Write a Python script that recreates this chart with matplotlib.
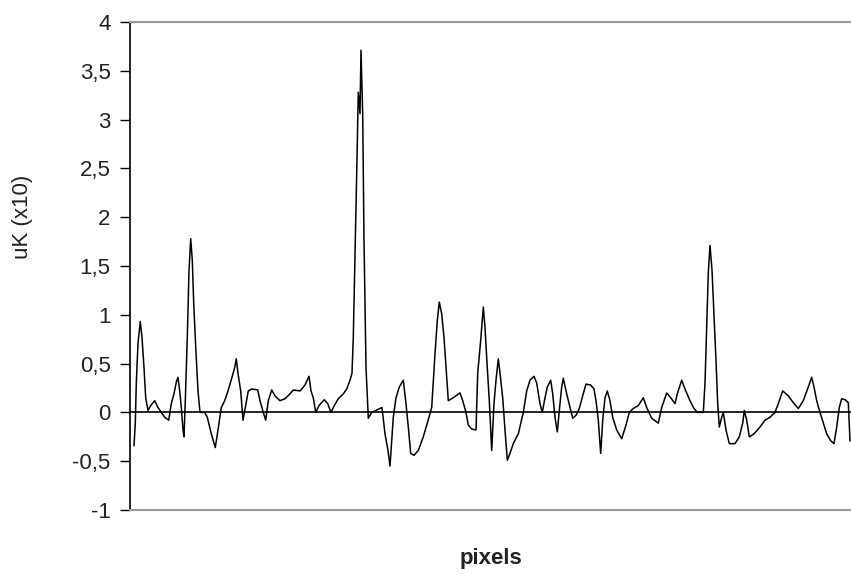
import matplotlib.pyplot as plt
from matplotlib.ticker import FuncFormatter

# profile: pixel position and value (uK x10)
px = [4, 5.3, 6.3, 8, 10.3, 12, 14, 15.7, 18, 20.7, 24.7, 28, 31.3, 34.7, 38.7,
      41.3, 44, 46.3, 48, 49.7, 51.3, 53, 54, 55.3, 57.3, 59, 60.7, 62.3, 63.7,
      65.7, 68, 70, 74.7, 77.3, 81.3, 85.3, 88, 91.3, 94.7, 98, 102, 104.7, 106.3,
      108, 110.7, 113, 115.3,
      118.3, 121.7, 127.7, 130, 133.3, 135.7, 138.3, 141.7, 145, 150, 155, 160,
      163.3, 170, 175, 179, 181, 183.3, 185.7, 189, 194.3, 197.7, 201, 204.3,
      208.3, 213.3, 216.7, 220, 222, 223.3, 225, 226.7, 228.3, 230, 231, 232.7,
      234, 236, 238.3, 241.7, 250, 252, 255, 258, 260, 263.3, 266, 269.3, 273.3,
      276, 278.3, 280.7, 284, 288.3, 293.3, 297.3, 301.7, 305, 307.3, 309.3,
      311.7, 314, 316, 318.3, 323.3, 330, 332.7, 336, 338.3, 341.7, 346, 347.7,
      350.7, 353.3, 355, 356.7, 359.3, 361.7, 364, 366, 368.3, 370, 372.7, 375,
      377.3, 380, 383.3, 388.3, 393.3,
      396.7, 400, 404, 406.7, 410, 412.3, 415, 417.3, 420.7, 422.7, 425, 427.3,
      429.3, 431.7, 433.3, 436.7, 440, 442.7, 446, 449.3, 452.7, 456, 460.7,
      464, 466, 468.3, 470.7, 472.7, 475, 477.3, 480, 482.7, 486.7, 491.7, 496,
      499.3, 503.3, 508.3, 513.3, 516.7, 521.7, 528.3, 531.7, 536.7, 540.7, 545,
      547.3, 551.7, 555, 560, 564, 567.3, 573.3, 575, 576.7, 578.3, 580, 582,
      584, 586, 587.7, 589.3, 591.7, 593.3, 596, 599.3, 605, 609.3, 612.7, 614.3,
      616.7, 619.3, 624, 630, 635, 640, 645, 648.3, 652.7, 658.3, 663.3, 668.3,
      673.3, 678.3, 681.7, 684, 686.7, 690, 693.3, 696.7, 700.7, 704, 706.7,
      709.3, 711.7, 715, 718.3, 720]
uk = [-0.34, -0.11, 0.30, 0.71, 0.93, 0.77, 0.46, 0.15, 0.02, 0.07, 0.12, 0.05, 0.0, -0.05, -0.08,
      0.09, 0.19, 0.31, 0.36, 0.22, 0.05, -0.18, -0.25, 0.12, 0.77, 1.45, 1.78, 1.56, 1.12,
      0.67, 0.22, 0.0, 0.0, -0.05, -0.22, -0.36, -0.18, 0.05, 0.12, 0.22, 0.36, 0.46, 0.55,
      0.40, 0.22, -0.08, 0.05,
      0.22, 0.24, 0.23, 0.12, 0.0, -0.08, 0.12, 0.23, 0.17, 0.12, 0.14, 0.19,
      0.23, 0.22, 0.28, 0.37, 0.22, 0.15, 0.0, 0.07, 0.13, 0.09, 0.0, 0.07,
      0.14, 0.19, 0.24, 0.33, 0.40, 0.77, 1.59, 2.45, 3.28, 3.06, 3.71, 3.06,
      1.76, 0.46, -0.06, 0.0, 0.04, 0.05, -0.22, -0.39, -0.55, -0.05, 0.15, 0.26, 0.33,
      0.09, -0.15, -0.42, -0.44, -0.39, -0.25, -0.11, 0.05, 0.60, 0.94, 1.13,
      1.01, 0.77, 0.46, 0.12, 0.15, 0.20, 0.12, 0.0, -0.13, -0.17, -0.18, 0.40,
      0.74, 1.08, 0.87, 0.56, 0.12, -0.39, 0.09, 0.33, 0.55, 0.40, 0.15, -0.18,
      -0.49, -0.42, -0.32, -0.22, 0.0,
      0.22, 0.33, 0.37, 0.30, 0.09, 0.0, 0.15, 0.26, 0.33, 0.19, -0.05, -0.20,
      0.02, 0.26, 0.35, 0.19, 0.05, -0.06, -0.03, 0.04, 0.17, 0.29, 0.28,
      0.24, 0.12, -0.08, -0.42, -0.08, 0.15, 0.22, 0.12, -0.05, -0.18, -0.27, -0.13,
      0.0, 0.04, 0.07, 0.15, 0.05, -0.06, -0.11, 0.05, 0.20, 0.15, 0.09,
      0.19, 0.33, 0.24, 0.12, 0.04, 0.0, 0.0, 0.30, 0.87, 1.43, 1.71, 1.46,
      0.99, 0.53, 0.09, -0.15, -0.05, 0.0, -0.18, -0.32, -0.32, -0.25, -0.11, 0.02,
      -0.08, -0.25, -0.22, -0.15, -0.08, -0.05, 0.0, 0.09, 0.22, 0.17, 0.10, 0.04,
      0.12, 0.26, 0.36, 0.26, 0.12, 0.0, -0.11, -0.22, -0.29, -0.32, -0.15,
      0.05, 0.14, 0.13, 0.10, -0.29]

yticks = [-1, -0.5, 0, 0.5, 1, 1.5, 2, 2.5, 3, 3.5, 4]

plt.rcParams['font.family'] = ['Liberation Sans', 'DejaVu Sans']

fig = plt.figure(figsize=(8.51, 5.74), dpi=100)
ax = fig.add_axes([130 / 851, 1 - 510 / 574, 721 / 851, 488 / 574])

ax.plot(px, uk, color='black', lw=1.1)
ax.axhline(0, color='black', lw=1.2)

ax.set_xlim(0, 721)
ax.set_ylim(-1, 4)
ax.set_xticks([])
ax.set_yticks(yticks)
ax.yaxis.set_major_formatter(FuncFormatter(lambda v, p: f"{v:g}".replace('.', ',')))
ax.tick_params(axis='y', length=7, width=1, pad=7, labelsize=16, labelcolor='#222222')

for side in ['top', 'bottom']:
    ax.spines[side].set_color('#999999')
    ax.spines[side].set_linewidth(1.5)
ax.spines['right'].set_visible(False)
ax.spines['left'].set_color('black')
ax.spines['left'].set_linewidth(1.2)

ax.set_ylabel('uK (x10)', fontsize=16, color='#222222')
ax.yaxis.set_label_coords(-0.134, 0.6)
ax.set_xlabel('pixels', fontsize=16, fontweight='bold', color='#222222')
ax.xaxis.set_label_coords(0.5, -0.078)

fig.savefig('out.png', dpi=100)
